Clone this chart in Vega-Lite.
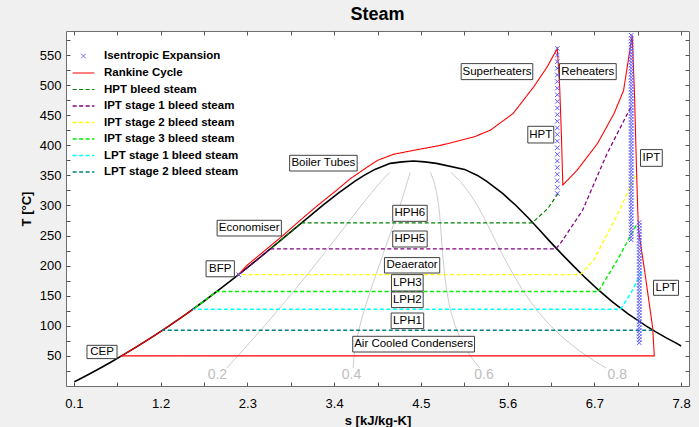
{
"$schema":"https://vega.github.io/schema/vega-lite/v6.json",
"width":623,"height":355,
"autosize":{"type":"none"},
"padding":{"left":66,"top":31,"right":10,"bottom":41},
"background":"#f0f0f0",
"title":{"text":"Steam","fontSize":18,"font":"Liberation Sans","fontWeight":"bold","color":"#000000","anchor":"middle","offset":7},
"config":{
 "view":{"fill":"#ffffff","stroke":"#6e6e6e","strokeWidth":1},
 "font":"Liberation Sans",
 "axis":{"labelFont":"Liberation Sans","labelFontSize":13,"labelColor":"#000000","titleFont":"Liberation Sans","titleFontSize":13,"titleFontWeight":"bold","titleColor":"#000000","grid":false,"domain":false,"tickColor":"#555555","tickSize":-4},
 "legend":{"labelFont":"Liberation Sans","labelFontSize":11.5,"labelFontWeight":"bold","labelColor":"#000000","symbolSize":225,"symbolStrokeWidth":1.5,"rowPadding":2.5,"labelOffset":12,"padding":0,"symbolFillColor":"transparent"}
},
"datasets":{
 "dome":[
  {"i":1,"s":0.106,"T":7},{"i":2,"s":0.1511,"T":10},{"i":3,"s":0.2966,"T":20},{"i":4,"s":0.4369,"T":30},{"i":5,"s":0.5725,"T":40},{"i":6,"s":0.7038,"T":50},{"i":7,"s":0.8313,"T":60},{"i":8,"s":0.9551,"T":70},{"i":9,"s":1.0756,"T":80},{"i":10,"s":1.1929,"T":90},{"i":11,"s":1.3072,"T":100},{"i":12,"s":1.5279,"T":120},{"i":13,"s":1.7392,"T":140},{"i":14,"s":1.9426,"T":160},{"i":15,"s":2.1392,"T":180},{"i":16,"s":2.3305,"T":200},{"i":17,"s":2.5177,"T":220},{"i":18,"s":2.702,"T":240},{"i":19,"s":2.8849,"T":260},{"i":20,"s":3.0685,"T":280},{"i":21,"s":3.2552,"T":300},{"i":22,"s":3.4494,"T":320},{"i":23,"s":3.6601,"T":340},{"i":24,"s":3.78,"T":350},{"i":25,"s":3.9167,"T":360},{"i":26,"s":4.1112,"T":370},{"i":27,"s":4.26,"T":372.5},{"i":28,"s":4.407,"T":373.9},{"i":29,"s":4.55,"T":372.5},{"i":30,"s":4.6968,"T":370},{"i":31,"s":5.0536,"T":360},{"i":32,"s":5.2177,"T":350},{"i":33,"s":5.3357,"T":340},{"i":34,"s":5.5362,"T":320},{"i":35,"s":5.7059,"T":300},{"i":36,"s":5.8571,"T":280},{"i":37,"s":5.9989,"T":260},{"i":38,"s":6.1379,"T":240},{"i":39,"s":6.2817,"T":220},{"i":40,"s":6.4302,"T":200},{"i":41,"s":6.584,"T":180},{"i":42,"s":6.7475,"T":160},{"i":43,"s":6.9284,"T":140},{"i":44,"s":7.1277,"T":120},{"i":45,"s":7.3541,"T":100},{"i":46,"s":7.479,"T":90},{"i":47,"s":7.6121,"T":80},{"i":48,"s":7.7553,"T":70},{"i":49,"s":7.8,"T":66.5}
 ],
 "qual":[
  {"q":"0.2","s":4.105,"T":355},{"q":"0.2","s":3.995,"T":340},{"q":"0.2","s":3.867,"T":320},{"q":"0.2","s":3.745,"T":300},{"q":"0.2","s":3.626,"T":280},{"q":"0.2","s":3.508,"T":260},{"q":"0.2","s":3.389,"T":240},{"q":"0.2","s":3.271,"T":220},{"q":"0.2","s":3.15,"T":200},{"q":"0.2","s":3.028,"T":180},{"q":"0.2","s":2.904,"T":160},{"q":"0.2","s":2.777,"T":140},{"q":"0.2","s":2.648,"T":120},{"q":"0.2","s":2.517,"T":100},{"q":"0.2","s":2.383,"T":80},{"q":"0.2","s":2.247,"T":60},{"q":"0.2","s":2.109,"T":40},{"q":"0.2","s":2.04,"T":30},
  {"q":"0.4","s":4.364,"T":355},{"q":"0.4","s":4.33,"T":340},{"q":"0.4","s":4.284,"T":320},{"q":"0.4","s":4.236,"T":300},{"q":"0.4","s":4.184,"T":280},{"q":"0.4","s":4.131,"T":260},{"q":"0.4","s":4.076,"T":240},{"q":"0.4","s":4.023,"T":220},{"q":"0.4","s":3.97,"T":200},{"q":"0.4","s":3.917,"T":180},{"q":"0.4","s":3.865,"T":160},{"q":"0.4","s":3.815,"T":140},{"q":"0.4","s":3.768,"T":120},{"q":"0.4","s":3.726,"T":100},{"q":"0.4","s":3.69,"T":80},{"q":"0.4","s":3.662,"T":60},{"q":"0.4","s":3.646,"T":40},{"q":"0.4","s":3.643,"T":30},
  {"q":"0.6","s":4.622,"T":355},{"q":"0.6","s":4.666,"T":340},{"q":"0.6","s":4.702,"T":320},{"q":"0.6","s":4.726,"T":300},{"q":"0.6","s":4.742,"T":280},{"q":"0.6","s":4.753,"T":260},{"q":"0.6","s":4.764,"T":240},{"q":"0.6","s":4.776,"T":220},{"q":"0.6","s":4.79,"T":200},{"q":"0.6","s":4.806,"T":180},{"q":"0.6","s":4.826,"T":160},{"q":"0.6","s":4.853,"T":140},{"q":"0.6","s":4.888,"T":120},{"q":"0.6","s":4.935,"T":100},{"q":"0.6","s":4.998,"T":80},{"q":"0.6","s":5.077,"T":60},{"q":"0.6","s":5.182,"T":40},{"q":"0.6","s":5.246,"T":30},
  {"q":"0.8","s":4.881,"T":355},{"q":"0.8","s":5.001,"T":340},{"q":"0.8","s":5.119,"T":320},{"q":"0.8","s":5.216,"T":300},{"q":"0.8","s":5.299,"T":280},{"q":"0.8","s":5.376,"T":260},{"q":"0.8","s":5.451,"T":240},{"q":"0.8","s":5.529,"T":220},{"q":"0.8","s":5.61,"T":200},{"q":"0.8","s":5.695,"T":180},{"q":"0.8","s":5.787,"T":160},{"q":"0.8","s":5.891,"T":140},{"q":"0.8","s":6.008,"T":120},{"q":"0.8","s":6.145,"T":100},{"q":"0.8","s":6.305,"T":80},{"q":"0.8","s":6.493,"T":60},{"q":"0.8","s":6.719,"T":40},{"q":"0.8","s":6.849,"T":30}
 ],
 "qlab":[{"t":"0.2","s":1.92,"T":17.8},{"t":"0.4","s":3.62,"T":17.8},{"t":"0.6","s":5.3,"T":17.8},{"t":"0.8","s":6.99,"T":17.8}],
 "lines":[
  {"series":"Rankine Cycle","i":1,"s":2.18,"T":184},{"series":"Rankine Cycle","i":2,"s":2.29,"T":200},{"series":"Rankine Cycle","i":3,"s":2.52,"T":225},{"series":"Rankine Cycle","i":4,"s":2.75,"T":250},{"series":"Rankine Cycle","i":5,"s":2.97,"T":275.5},{"series":"Rankine Cycle","i":6,"s":3.19,"T":300},{"series":"Rankine Cycle","i":7,"s":3.4,"T":322},{"series":"Rankine Cycle","i":8,"s":3.61,"T":345},{"series":"Rankine Cycle","i":9,"s":3.8,"T":362},{"series":"Rankine Cycle","i":10,"s":3.95,"T":375},{"series":"Rankine Cycle","i":11,"s":4.15,"T":385},{"series":"Rankine Cycle","i":12,"s":4.41,"T":391.7},{"series":"Rankine Cycle","i":13,"s":4.75,"T":400},{"series":"Rankine Cycle","i":14,"s":5.17,"T":413.8},{"series":"Rankine Cycle","i":15,"s":5.38,"T":425},{"series":"Rankine Cycle","i":16,"s":5.67,"T":453},{"series":"Rankine Cycle","i":17,"s":5.93,"T":497},{"series":"Rankine Cycle","i":18,"s":6.1,"T":530},{"series":"Rankine Cycle","i":19,"s":6.23,"T":561},{"series":"Rankine Cycle","i":20,"s":6.26,"T":497},{"series":"Rankine Cycle","i":21,"s":6.28,"T":425},{"series":"Rankine Cycle","i":22,"s":6.3,"T":334},{"series":"Rankine Cycle","i":23,"s":6.48,"T":358.5},{"series":"Rankine Cycle","i":24,"s":6.74,"T":403},{"series":"Rankine Cycle","i":25,"s":6.95,"T":453},{"series":"Rankine Cycle","i":26,"s":7.07,"T":491},{"series":"Rankine Cycle","i":27,"s":7.18,"T":583},{"series":"Rankine Cycle","i":28,"s":7.21,"T":480},{"series":"Rankine Cycle","i":29,"s":7.23,"T":380},{"series":"Rankine Cycle","i":30,"s":7.25,"T":292},{"series":"Rankine Cycle","i":31,"s":7.26,"T":259},{"series":"Rankine Cycle","i":32,"s":7.34,"T":189},{"series":"Rankine Cycle","i":33,"s":7.44,"T":96},{"series":"Rankine Cycle","i":34,"s":7.46,"T":50},{"series":"Rankine Cycle","i":35,"s":0.7038,"T":50},{"series":"Rankine Cycle","i":36,"s":0.8313,"T":60},{"series":"Rankine Cycle","i":37,"s":0.9551,"T":70},{"series":"Rankine Cycle","i":38,"s":1.0756,"T":80},{"series":"Rankine Cycle","i":39,"s":1.1929,"T":90},{"series":"Rankine Cycle","i":40,"s":1.3072,"T":100},{"series":"Rankine Cycle","i":41,"s":1.5279,"T":120},{"series":"Rankine Cycle","i":42,"s":1.61,"T":127.5},
  {"series":"HPT bleed steam","i":1,"s":6.24,"T":320},{"series":"HPT bleed steam","i":2,"s":6.11,"T":295},{"series":"HPT bleed steam","i":3,"s":5.91,"T":271},{"series":"HPT bleed steam","i":4,"s":2.98,"T":271},{"series":"HPT bleed steam","i":5,"s":2.885,"T":260},{"series":"HPT bleed steam","i":6,"s":2.793,"T":250},{"series":"HPT bleed steam","i":7,"s":2.702,"T":240},{"series":"HPT bleed steam","i":8,"s":2.59,"T":228},
  {"series":"IPT stage 1 bleed steam","i":1,"s":7.16,"T":463},{"series":"IPT stage 1 bleed steam","i":2,"s":6.86,"T":386},{"series":"IPT stage 1 bleed steam","i":3,"s":6.55,"T":292},{"series":"IPT stage 1 bleed steam","i":4,"s":6.27,"T":237},{"series":"IPT stage 1 bleed steam","i":5,"s":6.21,"T":228},{"series":"IPT stage 1 bleed steam","i":6,"s":2.59,"T":228},{"series":"IPT stage 1 bleed steam","i":7,"s":2.5177,"T":220},{"series":"IPT stage 1 bleed steam","i":8,"s":2.424,"T":210},{"series":"IPT stage 1 bleed steam","i":9,"s":2.3305,"T":200},{"series":"IPT stage 1 bleed steam","i":10,"s":2.19,"T":185},
  {"series":"IPT stage 2 bleed steam","i":1,"s":7.22,"T":350},{"series":"IPT stage 2 bleed steam","i":2,"s":7.03,"T":295},{"series":"IPT stage 2 bleed steam","i":3,"s":6.91,"T":264},{"series":"IPT stage 2 bleed steam","i":4,"s":6.69,"T":209},{"series":"IPT stage 2 bleed steam","i":5,"s":6.52,"T":185},{"series":"IPT stage 2 bleed steam","i":6,"s":2.19,"T":185},
  {"series":"IPT stage 3 bleed steam","i":1,"s":7.23,"T":267},{"series":"IPT stage 3 bleed steam","i":2,"s":6.99,"T":209},{"series":"IPT stage 3 bleed steam","i":3,"s":6.75,"T":157},{"series":"IPT stage 3 bleed steam","i":4,"s":1.91,"T":157},{"series":"IPT stage 3 bleed steam","i":5,"s":1.7392,"T":140},{"series":"IPT stage 3 bleed steam","i":6,"s":1.61,"T":127.5},
  {"series":"LPT stage 1 bleed steam","i":1,"s":7.3,"T":189.5},{"series":"LPT stage 1 bleed steam","i":2,"s":7.16,"T":153.6},{"series":"LPT stage 1 bleed steam","i":3,"s":7.03,"T":127.5},{"series":"LPT stage 1 bleed steam","i":4,"s":1.61,"T":127.5},
  {"series":"LPT stage 2 bleed steam","i":1,"s":7.44,"T":92.6},{"series":"LPT stage 2 bleed steam","i":2,"s":1.22,"T":92.6}
 ],
 "pts":[
  {"series":"Isentropic Expansion","s":2.19,"T":185},
  {"series":"Isentropic Expansion","s":6.23,"T":561},{"series":"Isentropic Expansion","s":6.23,"T":550},{"series":"Isentropic Expansion","s":6.23,"T":539},{"series":"Isentropic Expansion","s":6.23,"T":528},{"series":"Isentropic Expansion","s":6.23,"T":517},{"series":"Isentropic Expansion","s":6.23,"T":506},{"series":"Isentropic Expansion","s":6.23,"T":495},{"series":"Isentropic Expansion","s":6.23,"T":484},{"series":"Isentropic Expansion","s":6.23,"T":473},{"series":"Isentropic Expansion","s":6.23,"T":462},{"series":"Isentropic Expansion","s":6.23,"T":451},{"series":"Isentropic Expansion","s":6.23,"T":440},{"series":"Isentropic Expansion","s":6.23,"T":429},{"series":"Isentropic Expansion","s":6.23,"T":418},{"series":"Isentropic Expansion","s":6.23,"T":407},{"series":"Isentropic Expansion","s":6.23,"T":396},{"series":"Isentropic Expansion","s":6.23,"T":385},{"series":"Isentropic Expansion","s":6.23,"T":374},{"series":"Isentropic Expansion","s":6.23,"T":363},{"series":"Isentropic Expansion","s":6.23,"T":352},{"series":"Isentropic Expansion","s":6.23,"T":341},{"series":"Isentropic Expansion","s":6.23,"T":330},{"series":"Isentropic Expansion","s":6.23,"T":320},
  {"series":"Isentropic Expansion","s":7.167,"T":583},{"series":"Isentropic Expansion","s":7.167,"T":578},{"series":"Isentropic Expansion","s":7.167,"T":573},{"series":"Isentropic Expansion","s":7.167,"T":568},{"series":"Isentropic Expansion","s":7.167,"T":563},{"series":"Isentropic Expansion","s":7.167,"T":558},{"series":"Isentropic Expansion","s":7.167,"T":553},{"series":"Isentropic Expansion","s":7.167,"T":548},{"series":"Isentropic Expansion","s":7.167,"T":543},{"series":"Isentropic Expansion","s":7.167,"T":538},{"series":"Isentropic Expansion","s":7.167,"T":533},{"series":"Isentropic Expansion","s":7.167,"T":528},{"series":"Isentropic Expansion","s":7.167,"T":523},{"series":"Isentropic Expansion","s":7.167,"T":518},{"series":"Isentropic Expansion","s":7.167,"T":513},{"series":"Isentropic Expansion","s":7.167,"T":508},{"series":"Isentropic Expansion","s":7.167,"T":503},{"series":"Isentropic Expansion","s":7.167,"T":498},{"series":"Isentropic Expansion","s":7.167,"T":493},{"series":"Isentropic Expansion","s":7.167,"T":488},{"series":"Isentropic Expansion","s":7.167,"T":483},{"series":"Isentropic Expansion","s":7.167,"T":478},{"series":"Isentropic Expansion","s":7.167,"T":473},{"series":"Isentropic Expansion","s":7.167,"T":468},{"series":"Isentropic Expansion","s":7.167,"T":463},{"series":"Isentropic Expansion","s":7.167,"T":458},{"series":"Isentropic Expansion","s":7.167,"T":453},{"series":"Isentropic Expansion","s":7.167,"T":448},{"series":"Isentropic Expansion","s":7.167,"T":443},{"series":"Isentropic Expansion","s":7.167,"T":438},{"series":"Isentropic Expansion","s":7.167,"T":433},{"series":"Isentropic Expansion","s":7.167,"T":428},{"series":"Isentropic Expansion","s":7.167,"T":423},{"series":"Isentropic Expansion","s":7.167,"T":418},{"series":"Isentropic Expansion","s":7.167,"T":413},{"series":"Isentropic Expansion","s":7.167,"T":408},{"series":"Isentropic Expansion","s":7.167,"T":403},{"series":"Isentropic Expansion","s":7.167,"T":398},{"series":"Isentropic Expansion","s":7.167,"T":393},{"series":"Isentropic Expansion","s":7.167,"T":388},{"series":"Isentropic Expansion","s":7.167,"T":383},{"series":"Isentropic Expansion","s":7.167,"T":378},{"series":"Isentropic Expansion","s":7.167,"T":373},{"series":"Isentropic Expansion","s":7.167,"T":368},{"series":"Isentropic Expansion","s":7.167,"T":363},{"series":"Isentropic Expansion","s":7.167,"T":358},{"series":"Isentropic Expansion","s":7.167,"T":353},{"series":"Isentropic Expansion","s":7.167,"T":348},{"series":"Isentropic Expansion","s":7.167,"T":343},{"series":"Isentropic Expansion","s":7.167,"T":338},{"series":"Isentropic Expansion","s":7.167,"T":333},{"series":"Isentropic Expansion","s":7.167,"T":328},{"series":"Isentropic Expansion","s":7.167,"T":323},{"series":"Isentropic Expansion","s":7.167,"T":318},{"series":"Isentropic Expansion","s":7.167,"T":313},{"series":"Isentropic Expansion","s":7.167,"T":308},{"series":"Isentropic Expansion","s":7.167,"T":303},{"series":"Isentropic Expansion","s":7.167,"T":298},{"series":"Isentropic Expansion","s":7.167,"T":293},{"series":"Isentropic Expansion","s":7.167,"T":288},{"series":"Isentropic Expansion","s":7.167,"T":283},{"series":"Isentropic Expansion","s":7.167,"T":278},{"series":"Isentropic Expansion","s":7.167,"T":273},{"series":"Isentropic Expansion","s":7.167,"T":268},{"series":"Isentropic Expansion","s":7.167,"T":263},{"series":"Isentropic Expansion","s":7.167,"T":258},{"series":"Isentropic Expansion","s":7.167,"T":253},{"series":"Isentropic Expansion","s":7.167,"T":248},{"series":"Isentropic Expansion","s":7.167,"T":243},
  {"series":"Isentropic Expansion","s":7.269,"T":272},{"series":"Isentropic Expansion","s":7.269,"T":267},{"series":"Isentropic Expansion","s":7.269,"T":262},{"series":"Isentropic Expansion","s":7.269,"T":257},{"series":"Isentropic Expansion","s":7.269,"T":252},{"series":"Isentropic Expansion","s":7.269,"T":247},{"series":"Isentropic Expansion","s":7.269,"T":242},{"series":"Isentropic Expansion","s":7.269,"T":237},{"series":"Isentropic Expansion","s":7.269,"T":232},{"series":"Isentropic Expansion","s":7.269,"T":227},{"series":"Isentropic Expansion","s":7.269,"T":222},{"series":"Isentropic Expansion","s":7.269,"T":217},{"series":"Isentropic Expansion","s":7.269,"T":212},{"series":"Isentropic Expansion","s":7.269,"T":207},{"series":"Isentropic Expansion","s":7.269,"T":202},{"series":"Isentropic Expansion","s":7.269,"T":197},{"series":"Isentropic Expansion","s":7.269,"T":192},{"series":"Isentropic Expansion","s":7.269,"T":187},{"series":"Isentropic Expansion","s":7.269,"T":182},{"series":"Isentropic Expansion","s":7.269,"T":177},{"series":"Isentropic Expansion","s":7.269,"T":172},{"series":"Isentropic Expansion","s":7.269,"T":167},{"series":"Isentropic Expansion","s":7.269,"T":162},{"series":"Isentropic Expansion","s":7.269,"T":157},{"series":"Isentropic Expansion","s":7.269,"T":152},{"series":"Isentropic Expansion","s":7.269,"T":147},{"series":"Isentropic Expansion","s":7.269,"T":142},{"series":"Isentropic Expansion","s":7.269,"T":137},{"series":"Isentropic Expansion","s":7.269,"T":132},{"series":"Isentropic Expansion","s":7.269,"T":127},{"series":"Isentropic Expansion","s":7.269,"T":122},{"series":"Isentropic Expansion","s":7.269,"T":117},{"series":"Isentropic Expansion","s":7.269,"T":112},{"series":"Isentropic Expansion","s":7.269,"T":107},{"series":"Isentropic Expansion","s":7.269,"T":102},{"series":"Isentropic Expansion","s":7.269,"T":97},{"series":"Isentropic Expansion","s":7.269,"T":92},{"series":"Isentropic Expansion","s":7.269,"T":87},{"series":"Isentropic Expansion","s":7.269,"T":82},{"series":"Isentropic Expansion","s":7.269,"T":77},{"series":"Isentropic Expansion","s":7.269,"T":72}
 ],
 "ann":[
  {"label":"Superheaters","s":5.465,"T":522.5,"s1":5.011,"s2":5.919,"T1":509.2,"T2":535.8},
  {"label":"Reheaters","s":6.617,"T":522.5,"s1":6.258,"s2":6.977,"T1":509.2,"T2":535.8},
  {"label":"HPT","s":6.02,"T":417.7,"s1":5.856,"s2":6.185,"T1":403.9,"T2":431.6},
  {"label":"IPT","s":7.423,"T":379,"s1":7.285,"s2":7.561,"T1":365.1,"T2":392.9},
  {"label":"LPT","s":7.609,"T":163.2,"s1":7.45,"s2":7.767,"T1":150.7,"T2":175.7},
  {"label":"Boiler Tubes","s":3.264,"T":370.4,"s1":2.836,"s2":3.692,"T1":357.3,"T2":383.4},
  {"label":"Economiser","s":2.323,"T":262.3,"s1":1.916,"s2":2.731,"T1":249.3,"T2":275.4},
  {"label":"BFP","s":1.955,"T":194.8,"s1":1.776,"s2":2.135,"T1":181.5,"T2":208.1},
  {"label":"CEP","s":0.457,"T":56.6,"s1":0.266,"s2":0.647,"T1":45.5,"T2":67.6},
  {"label":"HPH6","s":4.361,"T":287,"s1":4.143,"s2":4.58,"T1":273.7,"T2":300.3},
  {"label":"HPH5","s":4.361,"T":244.3,"s1":4.143,"s2":4.58,"T1":231,"T2":257.6},
  {"label":"Deaerator","s":4.389,"T":200.6,"s1":4.038,"s2":4.739,"T1":187.8,"T2":213.4},
  {"label":"LPH3","s":4.328,"T":171.5,"s1":4.127,"s2":4.529,"T1":157.9,"T2":185.1},
  {"label":"LPH2","s":4.328,"T":143.3,"s1":4.127,"s2":4.529,"T1":130.3,"T2":156.2},
  {"label":"LPH1","s":4.33,"T":108.4,"s1":4.123,"s2":4.536,"T1":95.4,"T2":121.3},
  {"label":"Air Cooled Condensers","s":4.408,"T":69.6,"s1":3.636,"s2":5.18,"T1":56.5,"T2":82.6}
 ]
},
"layer":[
 {"data":{"name":"qual"},"mark":{"type":"line","color":"#cccccc","strokeWidth":1,"clip":true},
  "encoding":{
   "x":{"field":"s","type":"quantitative","scale":{"domain":[0,7.9],"nice":false,"zero":false},"axis":{"orient":"top","values":[0.1,0.65,1.2,1.75,2.3,2.85,3.4,3.95,4.5,5.05,5.6,6.15,6.7,7.25,7.8],"labels":false,"title":null,"tickSize":-4}},
   "y":{"field":"T","type":"quantitative","scale":{"domain":[0,590],"nice":false,"zero":false},"axis":{"orient":"right","values":[25,50,75,100,125,150,175,200,225,250,275,300,325,350,375,400,425,450,475,500,525,550,575],"labels":false,"title":null,"tickSize":-4}},
   "detail":{"field":"q"},
   "order":{"field":"T","type":"quantitative"}
  }},
 {"data":{"name":"qlab"},"mark":{"type":"text","color":"#bdbdbd","fontSize":14,"font":"Liberation Sans","align":"center","baseline":"middle"},
  "encoding":{
   "x":{"field":"s","type":"quantitative","axis":null},
   "y":{"field":"T","type":"quantitative","axis":null},
   "text":{"field":"t"}
  }},
 {"data":{"name":"dome"},"mark":{"type":"line","color":"#000000","strokeWidth":1.6,"clip":true},
  "encoding":{
   "x":{"field":"s","type":"quantitative","axis":{"orient":"bottom","values":[0.1,0.65,1.2,1.75,2.3,2.85,3.4,3.95,4.5,5.05,5.6,6.15,6.7,7.25,7.8],"labelExpr":"abs((datum.value-0.1)/1.1 - round((datum.value-0.1)/1.1)) < 0.01 ? format(datum.value,'.1f') : ''","title":"s [kJ/kg-K]","labelPadding":15,"titlePadding":4}},
   "y":{"field":"T","type":"quantitative","axis":{"orient":"left","values":[25,50,75,100,125,150,175,200,225,250,275,300,325,350,375,400,425,450,475,500,525,550,575],"labelExpr":"datum.value % 50 == 0 ? datum.value : ''","title":"T [°C]","labelPadding":9,"titlePadding":6}},
   "order":{"field":"i","type":"quantitative"}
  }},
 {"data":{"name":"lines"},"mark":{"type":"line","clip":true},
  "encoding":{
   "x":{"field":"s","type":"quantitative","axis":null},
   "y":{"field":"T","type":"quantitative","axis":null},
   "color":{"field":"series","type":"nominal","scale":{"domain":["Isentropic Expansion","Rankine Cycle","HPT bleed steam","IPT stage 1 bleed steam","IPT stage 2 bleed steam","IPT stage 3 bleed steam","LPT stage 1 bleed steam","LPT stage 2 bleed steam"],"range":["#5a5aff","#ff0000","#008000","#800080","#ffff00","#00ee00","#00ffff","#008080"]},"legend":{"title":null,"orient":"none","legendX":9,"legendY":17}},
   "strokeDash":{"field":"series","type":"nominal","scale":{"domain":["Isentropic Expansion","Rankine Cycle","HPT bleed steam","IPT stage 1 bleed steam","IPT stage 2 bleed steam","IPT stage 3 bleed steam","LPT stage 1 bleed steam","LPT stage 2 bleed steam"],"range":[[1,0],[1,0],[4,2.5],[4,2.5],[4,2.5],[4,2.5],[4,2.5],[4,2.5]]},"legend":{"title":null,"orient":"none","legendX":9,"legendY":17}},
   "strokeWidth":{"field":"series","type":"nominal","scale":{"domain":["Isentropic Expansion","Rankine Cycle","HPT bleed steam","IPT stage 1 bleed steam","IPT stage 2 bleed steam","IPT stage 3 bleed steam","LPT stage 1 bleed steam","LPT stage 2 bleed steam"],"range":[1,1.6,1.3,1.3,1.3,1.3,1.3,1.3]},"legend":null},
   "order":{"field":"i","type":"quantitative"}
  }},
 {"data":{"name":"pts"},"mark":{"type":"point","filled":false,"strokeWidth":1,"size":225,"opacity":1,"clip":true},
  "encoding":{
   "x":{"field":"s","type":"quantitative","axis":null},
   "y":{"field":"T","type":"quantitative","axis":null},
   "color":{"field":"series","type":"nominal","legend":{"title":null,"orient":"none","legendX":9,"legendY":17}},
   "shape":{"field":"series","type":"nominal","scale":{"domain":["Isentropic Expansion","Rankine Cycle","HPT bleed steam","IPT stage 1 bleed steam","IPT stage 2 bleed steam","IPT stage 3 bleed steam","LPT stage 1 bleed steam","LPT stage 2 bleed steam"],"range":["M-0.3,-0.3L0.3,0.3M-0.3,0.3L0.3,-0.3","M-1.45,0H1.45","M-1.45,0H1.45","M-1.45,0H1.45","M-1.45,0H1.45","M-1.45,0H1.45","M-1.45,0H1.45","M-1.45,0H1.45"]},"legend":{"title":null,"orient":"none","legendX":9,"legendY":17}}
  }},
 {"data":{"name":"ann"},"mark":{"type":"rect","fill":"#ffffff","stroke":"#404040","strokeWidth":1},
  "encoding":{
   "x":{"field":"s1","type":"quantitative","axis":null},"x2":{"field":"s2"},
   "y":{"field":"T1","type":"quantitative","axis":null},"y2":{"field":"T2"}
  }},
 {"data":{"name":"ann"},"mark":{"type":"text","fontSize":11.5,"font":"Liberation Sans","color":"#000000","align":"center","baseline":"middle"},
  "encoding":{
   "x":{"field":"s","type":"quantitative","axis":null},
   "y":{"field":"T","type":"quantitative","axis":null},
   "text":{"field":"label"}
  }}
]
}
